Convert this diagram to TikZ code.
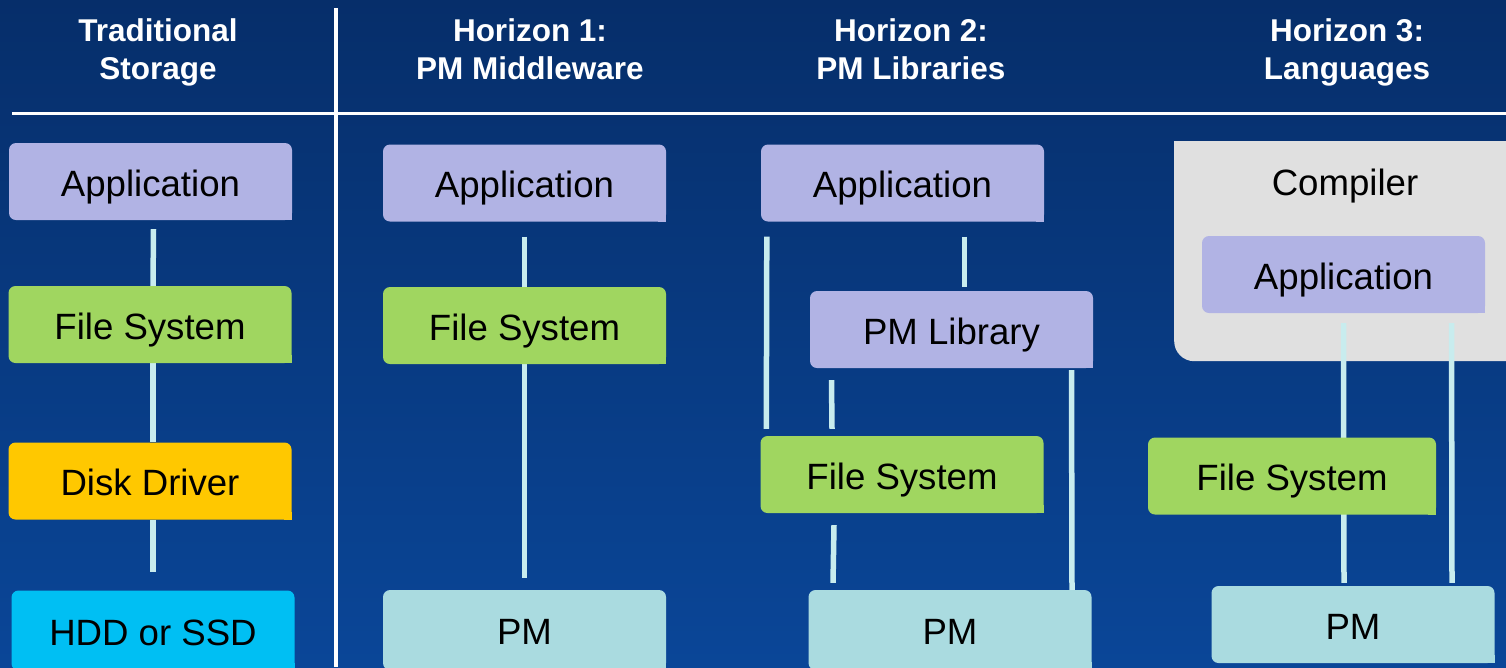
\documentclass[tikz,border=0pt]{standalone}
\usepackage{fontspec}
\setmainfont{Liberation Sans}
\definecolor{appcol}{RGB}{177,179,228}
\definecolor{fscol}{RGB}{160,214,96}
\definecolor{drvcol}{RGB}{255,200,0}
\definecolor{diskcol}{RGB}{0,191,243}
\definecolor{pmcol}{RGB}{170,219,224}
\definecolor{compcol}{RGB}{224,224,224}
\definecolor{linkcol}{RGB}{200,236,238}
\definecolor{bgtop}{RGB}{6,46,106}
\definecolor{bgbot}{RGB}{10,70,152}
\pgfdeclarelayer{bg}
\pgfdeclarelayer{links}
\pgfsetlayers{bg,links,main}
\tikzset{
  box/.style={fill=#1,rounded corners=7pt,minimum width=283pt,minimum height=77pt,
    inner sep=0pt,text height=32pt,text depth=3pt,font=\fontsize{36.6}{40}\selectfont},
  head/.style={text=white,align=center,font=\bfseries\fontsize{31.5}{38}\selectfont},
  link/.style={draw=linkcol,line width=5.5pt},
}
\begin{document}
\begin{tikzpicture}[x=1pt,y=-1pt]
\useasboundingbox (0,0) rectangle (1506,667);
\begin{pgfonlayer}{bg}
  \shade[top color=bgtop,bottom color=bgbot] (0,0) rectangle (1506,667);
  \draw[white,line width=3pt] (12,113) -- (1506,113);
  \draw[white,line width=4pt] (336,8) -- (336,667);
  % compiler frame
  \node[fill=compcol,rounded corners=20pt,minimum width=360pt,minimum height=220pt,
    anchor=north west,inner sep=0pt] (comp4) at (1174,141) {};
  \fill[compcol] (comp4.north west) rectangle ++(22pt,-22pt);
\end{pgfonlayer}

% headers
\node[head] (h0) at (158,52) {Traditional\\Storage};
\node[head] (h1) at (530,49) {Horizon 1:\\PM Middleware};
\node[head] (h2) at (911,49) {Horizon 2:\\PM Libraries};
\node[head] (h3) at (1347,52) {Horizon 3:\\Languages};

% traditional storage
\node[box=appcol] (app1) at (150.5,181.5) {Application};
\node[box=fscol] (fs1) at (150,324.5) {File System};
\node[box=drvcol] (drv1) at (150,481) {Disk Driver};
\node[box=diskcol,minimum height=80pt] (disk1) at (153,630.5) {HDD or SSD};

% horizon 1
\node[box=appcol] (app2) at (524.5,183) {Application};
\node[box=fscol] (fs2) at (524.5,325.5) {File System};
\node[box=pmcol,minimum height=80pt] (pm2) at (524.5,630) {PM};

% horizon 2
\node[box=appcol] (app3) at (902.5,183) {Application};
\node[box=appcol] (lib3) at (951.5,329.5) {PM Library};
\node[box=fscol] (fs3) at (902,474.5) {File System};
\node[box=pmcol,minimum height=80pt] (pm3) at (950,630) {PM};

% horizon 3
\node[anchor=base,font=\fontsize{36.6}{40}\selectfont] (clab) at (1345,195) {Compiler};
\node[box=appcol] (app4) at (1343.5,274.5) {Application};
\node[box=fscol,minimum width=288pt] (fs4) at (1292,476) {File System};
\node[box=pmcol] (pm4) at (1353,624.5) {PM};

% square lower right corners
\foreach \n/\c in {app1/appcol,fs1/fscol,drv1/drvcol,disk1/diskcol,app2/appcol,fs2/fscol,
  pm2/pmcol,app3/appcol,lib3/appcol,fs3/fscol,pm3/pmcol,app4/appcol,fs4/fscol,pm4/pmcol}
  \fill[\c] (\n.south east) rectangle ++(-8pt,8pt);

\begin{pgfonlayer}{links}
  \draw[link] ([xshift=3pt,yshift=-9pt]app1.south) -- ([xshift=3pt]fs1.north);
  \draw[link] ([xshift=3pt]fs1.south) -- ([xshift=3pt]drv1.north);
  \draw[link] ([xshift=3pt]drv1.south) -- ([yshift=18pt]disk1.north);
  \draw[link] ([yshift=-15pt]app2.south) -- (fs2.north);
  \draw[link] (fs2.south) -- ([yshift=12pt]pm2.north);
  \draw[link] ([xshift=6pt,yshift=-15pt]app3.south west) -- ([xshift=6pt,yshift=7pt]fs3.north west);
  \draw[link] ([xshift=62pt,yshift=-15pt]app3.south) -- ([xshift=13pt,yshift=4pt]lib3.north);
  \draw[link] ([xshift=-120pt,yshift=-12pt]lib3.south) -- ([xshift=-70pt,yshift=7pt]fs3.north);
  \draw[link] ([xshift=120pt,yshift=-2pt]lib3.south) -- ([xshift=122pt]pm3.north);
  \draw[link] ([xshift=-68pt,yshift=-12pt]fs3.south) -- ([xshift=-117pt,yshift=7pt]pm3.north);
  \draw[link] ([yshift=-10pt]app4.south) -- ([xshift=-9pt,yshift=3pt]pm4.north);
  \draw[link] ([xshift=108pt,yshift=-10pt]app4.south) -- ([xshift=99pt,yshift=3pt]pm4.north);
\end{pgfonlayer}
\end{tikzpicture}
\end{document}
